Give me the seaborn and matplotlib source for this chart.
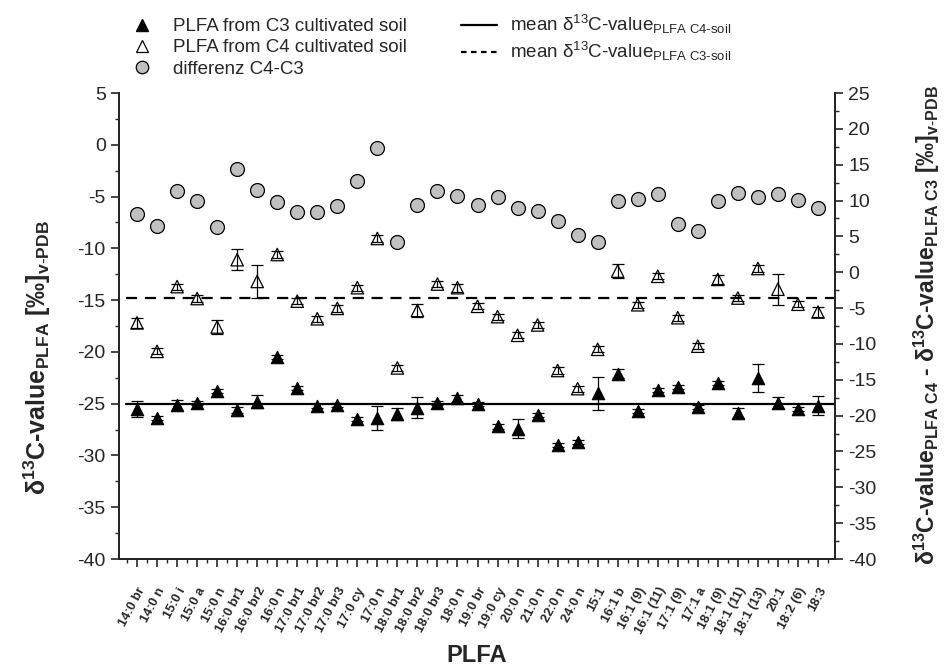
import numpy as np
import pandas as pd
import matplotlib
matplotlib.use("Agg")
import matplotlib.pyplot as plt
from matplotlib.lines import Line2D
from matplotlib.ticker import MultipleLocator
import seaborn as sns

# PLFA names (x axis)
plfa = ["14:0 br", "14:0 n", "15:0 i", "15:0 a", "15:0 n", "16:0 br1", "16:0 br2",
        "16:0 n", "17:0 br1", "17:0 br2", "17:0 br3", "17:0 cy", "17:0 n", "18:0 br1",
        "18:0 br2", "18:0 br3", "18:0 n", "19:0 br", "19:0 cy", "20:0 n", "21:0 n",
        "22:0 n", "24:0 n", "15:1", "16:1 b", "16:1 (9)", "16:1 (11)", "17:1 (9)",
        "17:1 a", "18:1 (9)", "18:1 (11)", "18:1 (13)", "20:1", "18:2 (6)", "18:3"]

# d13C of PLFA from C3 cultivated soil (left axis)
c3 = [-25.5, -26.4, -25.1, -24.9, -23.8, -25.6, -24.8, -20.5, -23.5, -25.2, -25.1, -26.5,
      -26.4, -26.0, -25.4, -24.9, -24.5, -25.0, -27.2, -27.4, -26.1, -29.0, -28.7, -24.0,
      -22.1, -25.7, -23.7, -23.4, -25.3, -23.0, -25.9, -22.5, -24.9, -25.5, -25.2]
c3_err = [0.75, 0.2, 0.5, 0.2, 0.2, 0.3, 0.65, 0.2, 0.2, 0.2, 0.2, 0.2, 1.15, 0.55, 1.0,
          0.2, 0.3, 0.2, 0.2, 0.9, 0.2, 0.2, 0.2, 1.6, 0.45, 0.2, 0.2, 0.2, 0.2, 0.2, 0.5,
          1.35, 0.55, 0.2, 0.9]

# d13C of PLFA from C4 cultivated soil (left axis)
c4 = [-17.2, -19.95, -13.7, -14.85, -17.6, -11.1, -13.2, -10.6, -15.1, -16.8, -15.8, -13.8,
      -9.05, -21.55, -16.0, -13.45, -13.8, -15.6, -16.6, -18.4, -17.4, -21.8, -23.55, -19.75,
      -12.2, -15.45, -12.7, -16.7, -19.45, -13.0, -14.8, -11.95, -13.95, -15.4, -16.15]
c4_err = [0.45, 0.3, 0.3, 0.3, 0.7, 1.0, 1.6, 0.3, 0.3, 0.3, 0.3, 0.3, 0.3, 0.3, 0.6, 0.3,
          0.4, 0.3, 0.3, 0.3, 0.3, 0.3, 0.3, 0.3, 0.7, 0.3, 0.3, 0.3, 0.3, 0.4, 0.3, 0.3,
          1.5, 0.3, 0.5]

# difference C4-C3 (right axis)
diff = [8.15, 6.4, 11.3, 10.0, 6.3, 14.35, 11.5, 9.85, 8.35, 8.35, 9.25, 12.7, 17.3, 4.25,
        9.35, 11.35, 10.6, 9.35, 10.5, 8.9, 8.6, 7.2, 5.2, 4.15, 9.95, 10.25, 10.95, 6.7,
        5.8, 9.95, 11.05, 10.45, 10.9, 10.05, 9.0]

mean_c4soil = -25.0   # solid line
mean_c3soil = -14.8   # dashed line

df = pd.DataFrame({"pos": np.arange(len(plfa)), "c3": c3, "c4": c4, "diff": diff})

sns.set_style("ticks")
plt.rcParams["font.family"] = ["Liberation Sans", "DejaVu Sans"]
plt.rcParams["mathtext.fontset"] = "custom"
plt.rcParams["mathtext.rm"] = "Liberation Sans"
plt.rcParams["mathtext.it"] = "Liberation Sans:italic"
plt.rcParams["mathtext.bf"] = "Liberation Sans:bold"
plt.rcParams["mathtext.default"] = "regular"
plt.rcParams["axes.unicode_minus"] = False

fig = plt.figure(figsize=(9.49, 6.70), dpi=100)
ax = fig.add_axes([119 / 949, 1 - 559 / 670, (835 - 119) / 949, (559 - 93) / 670])
ax2 = ax.twinx()

grey = "#c0c0c0"

#mean lines
ax.axhline(mean_c4soil, xmin=0.01, xmax=1, color="black", lw=1.6)
ax.axhline(mean_c3soil, xmin=0.01, xmax=1, color="black", lw=1.6, ls=(0, (5, 3.5)))

#error bars + triangles
ax.errorbar(df["pos"], df["c3"], yerr=c3_err, fmt="none", ecolor="black", elinewidth=0.9,
            capsize=4.5, capthick=0.9, zorder=2)
ax.errorbar(df["pos"], df["c4"], yerr=c4_err, fmt="none", ecolor="black", elinewidth=0.9,
            capsize=4.5, capthick=0.9, zorder=2)
sns.scatterplot(data=df, x="pos", y="c3", marker="^", s=80, color="black",
                edgecolor="black", linewidth=0.8, ax=ax, zorder=3)
sns.scatterplot(data=df, x="pos", y="c4", marker="^", s=80, facecolor="none",
                edgecolor="black", linewidth=0.9, ax=ax, zorder=3)

#difference circles on right axis
sns.scatterplot(data=df, x="pos", y="diff", marker="o", s=100, color=grey,
                edgecolor="black", linewidth=0.9, ax=ax2, zorder=3)

ax.set_xlim(-0.9, 34.85)
ax.set_ylim(-40, 5)
ax2.set_ylim(-40, 25)

for a in (ax, ax2):
    a.spines["top"].set_visible(False)
    for s in a.spines.values():
        s.set_linewidth(1.4)
    a.set_xlabel("")
    a.set_ylabel("")

ax.yaxis.set_major_locator(MultipleLocator(5))
ax.yaxis.set_minor_locator(MultipleLocator(2.5))
ax2.yaxis.set_major_locator(MultipleLocator(5))
ax2.yaxis.set_minor_locator(MultipleLocator(2.5))
ax.set_xticks(df["pos"])
ax.xaxis.set_minor_locator(MultipleLocator(0.5))
ax.set_xticklabels(plfa, rotation=62, ha="right", rotation_mode="anchor",
                   fontweight="bold", fontsize=9.3)
ax.tick_params(axis="x", which="major", direction="out", length=6, width=1.2, pad=13)
ax.tick_params(axis="x", which="minor", direction="out", length=3, width=1.0)
ax.tick_params(axis="y", which="major", direction="out", length=6, width=1.2, labelsize=14)
ax.tick_params(axis="y", which="minor", direction="out", length=3, width=1.0)
ax2.tick_params(axis="y", which="major", direction="out", length=6, width=1.2, labelsize=14)
ax2.tick_params(axis="y", which="minor", direction="out", length=3, width=1.0)

fig.text(477 / 949, 1 - 656 / 670, "PLFA", ha="center", va="center",
         fontsize=17, fontweight="bold")
fig.text(37 / 949, 1 - 358 / 670,
         r"δ$^{13}$C-value$_{PLFA}$ [‰]$_{v\text{-}PDB}$",
         rotation=90, ha="center", va="center", fontsize=18, fontweight="bold")
fig.text(927 / 949, 1 - 325 / 670,
         r"δ$^{13}$C-value$_{PLFA\ C4}$ - δ$^{13}$C-value$_{PLFA\ C3}$ [‰]$_{v\text{-}PDB}$",
         rotation=90, ha="center", va="center", fontsize=16.5, fontweight="bold")

#legend
handles = [
    Line2D([], [], marker="^", ls="none", color="black", ms=9),
    Line2D([], [], marker="^", ls="none", mfc="none", mec="black", ms=9, mew=0.9),
    Line2D([], [], marker="o", ls="none", mfc=grey, mec="black", ms=9, mew=0.9),
    Line2D([], [], color="black", lw=1.6),
    Line2D([], [], color="black", lw=1.6, ls=(0, (2.5, 2))),
]
labels = [
    "PLFA from C3 cultivated soil",
    "PLFA from C4 cultivated soil",
    "differenz C4-C3",
    r"mean δ$^{13}$C-value$_{PLFA\ C4\text{-}soil}$",
    r"mean δ$^{13}$C-value$_{PLFA\ C3\text{-}soil}$",
]
fig.legend(handles, labels, ncol=2, loc="upper left", bbox_to_anchor=(124 / 949, 1 - 13 / 670),
           frameon=False, fontsize=13.5, handlelength=1.9, handletextpad=0.7,
           columnspacing=2.9, labelspacing=0.22, borderpad=0, borderaxespad=0)

fig.savefig("out.png", dpi=100)
